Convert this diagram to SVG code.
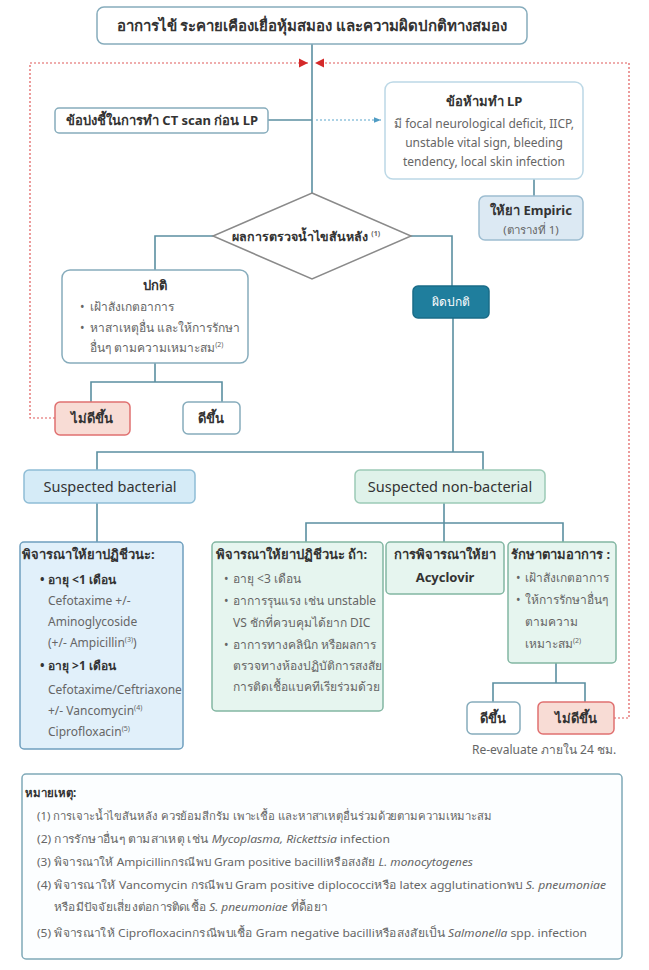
<svg xmlns="http://www.w3.org/2000/svg" width="649" height="970" viewBox="0 0 649 970">
<defs>
<style>
text{font-family:"Noto Sans","DejaVu Sans",sans-serif;fill:#333;}
.b{font-weight:bold;}
.g{fill:#666;}
.w{fill:#fff;}
.c{text-anchor:middle;}
.i{font-style:italic;}
.ln{fill:none;stroke:#5b8fa1;stroke-width:1.6;}
.red{fill:none;stroke:#e05a5a;stroke-width:1.2;stroke-dasharray:2 2;}
.blu{fill:none;stroke:#5aa6cc;stroke-width:1.2;stroke-dasharray:2 2;}
.box{fill:#fff;stroke:#86acbc;stroke-width:1.5;}
.lb{fill:#fff;stroke:#bcd8e6;stroke-width:1.5;}
.emp{fill:#dce9f3;stroke:#9dbdd1;stroke-width:1.5;}
.bad{fill:#f8dcd5;stroke:#e07070;stroke-width:1.5;}
.dark{fill:#1f7e9d;stroke:#1a6c88;stroke-width:1.5;}
.sb{fill:#d5ebf7;stroke:#8fbdd6;stroke-width:1.5;}
.sn{fill:#dff2ea;stroke:#9ccab6;stroke-width:1.5;}
.bb{fill:#e1f0fa;stroke:#6f9fbe;stroke-width:1.5;}
.gb{fill:#e6f5ef;stroke:#82b6a2;stroke-width:1.5;}
.note{fill:#fcfeff;stroke:#7fa9b8;stroke-width:1.5;}
.t15{font-size:15px;}
.t14{font-size:14.5px;}
.t13{font-size:13px;}
.t12{font-size:12px;}
.t11{font-size:11.5px;}
.sup{font-size:7px;}
</style>
<marker id="ar" viewBox="0 0 10 10" refX="10" refY="5" markerWidth="9" markerHeight="10" markerUnits="userSpaceOnUse" orient="auto">
<path d="M0 0L10 5L0 10z" fill="#d42a2a"/>
</marker>
<marker id="ab" viewBox="0 0 10 10" refX="10" refY="5" markerWidth="7" markerHeight="7" markerUnits="userSpaceOnUse" orient="auto">
<path d="M0 1L10 5L0 9z" fill="#4f9cc4"/>
</marker>
</defs>
<rect width="649" height="970" fill="#fff"/>

<g id="connectors">
<path class="red" d="M55 418H30V63H308" marker-end="url(#ar)"/>
<path class="red" d="M614 718H629V63H315" marker-end="url(#ar)"/>
<path class="ln" d="M312 44V193"/>
<path class="ln" d="M268 120H312"/>
<path class="blu" d="M316 120H381" marker-end="url(#ab)"/>
<path class="ln" d="M534 179V196"/>
<path class="ln" d="M213 236H155V270"/>
<path class="ln" d="M411 236H452V286"/>
<path class="ln" d="M155 363V382M91 402V382H222V402"/>
<path class="ln" d="M453 318V452M97 470V452H483V470"/>
<path class="ln" d="M97 503V542"/>
<path class="ln" d="M444 503V523M306 542V523H563V542M444 523V542"/>
<path class="ln" d="M556 663V683M493 702V683H585V702"/>
</g>

<g id="title">
<rect class="box" x="97" y="7" width="430" height="37" rx="7"/>
<text class="b t15 c" x="312" y="31">อาการไข้ ระคายเคืองเยื่อหุ้มสมอง และความผิดปกติทางสมอง</text>
</g>

<g id="ct">
<rect class="box" x="55" y="108" width="213" height="25" rx="4"/>
<text class="b t13 c" x="162" y="125">ข้อบ่งชี้ในการทำ CT scan ก่อน LP</text>
</g>

<g id="contra">
<rect class="lb" x="385" y="82" width="198" height="97" rx="8"/>
<text class="b t13 c" x="484" y="106">ข้อห้ามทำ LP</text>
<text class="g t12 c" x="484" y="128">มี focal neurological deficit, IICP,</text>
<text class="g t12 c" x="484" y="147">unstable vital sign, bleeding</text>
<text class="g t12 c" x="484" y="166">tendency, local skin infection</text>
</g>

<g id="empiric">
<rect class="emp" x="479" y="196" width="104" height="44" rx="6"/>
<text class="b t13 c" x="531" y="215">ให้ยา Empiric</text>
<text class="g t11 c" x="531" y="234">(ตารางที่ 1)</text>
</g>

<g id="diamond">
<path d="M312 193L411 236L312 279L213 236Z" fill="#fff" stroke="#8a8a8a" stroke-width="1.5"/>
<text class="b" font-size="12.5" x="232" y="241">ผลการตรวจน้ำไขสันหลัง <tspan class="sup g" dy="-5">(1)</tspan></text>
</g>

<g id="normal">
<rect class="box" x="62" y="270" width="186" height="93" rx="8"/>
<text class="b t13 c" x="155" y="290">ปกติ</text>
<text class="g t12" x="80" y="311">•</text>
<text class="g t12" x="90" y="311">เฝ้าสังเกตอาการ</text>
<text class="g t12" x="80" y="332">•</text>
<text class="g t12" x="90" y="332">หาสาเหตุอื่น และให้การรักษา</text>
<text class="g t12" x="90" y="352">อื่นๆ ตามความเหมาะสม<tspan class="sup" dy="-5">(2)</tspan></text>
</g>

<g id="abnormal">
<rect class="dark" x="413" y="286" width="76" height="32" rx="5"/>
<text class="w t12 c" x="451" y="306">ผิดปกติ</text>
</g>

<g id="notbetter1">
<rect class="bad" x="55" y="402" width="75" height="33" rx="5"/>
<text class="b t13 c" x="92" y="423">ไม่ดีขึ้น</text>
</g>

<g id="better1">
<rect class="box" x="183" y="402" width="57" height="32" rx="5"/>
<text class="b t13 c" x="211" y="423">ดีขึ้น</text>
</g>

<g id="susp-bact">
<rect class="sb" x="24" y="470" width="171" height="33" rx="5"/>
<text class="t14 c" x="110" y="492">Suspected bacterial</text>
</g>

<g id="susp-nonbact">
<rect class="sn" x="355" y="470" width="190" height="33" rx="5"/>
<text class="t14 c" x="450" y="492">Suspected non-bacterial</text>
</g>

<g id="bact-abx">
<rect class="bb" x="20" y="542" width="163" height="207" rx="4"/>
<text class="b t13" x="22" y="559">พิจารณาให้ยาปฏิชีวนะ:</text>
<text class="b t12" x="40" y="584">•</text>
<text class="b t12" x="48" y="584">อายุ &lt;1 เดือน</text>
<text class="g t12" x="48" y="605">Cefotaxime +/-</text>
<text class="g t12" x="48" y="626">Aminoglycoside</text>
<text class="g t12" x="48" y="647">(+/- Ampicillin<tspan class="sup" dy="-5">(3)</tspan><tspan dy="5">)</tspan></text>
<text class="b t12" x="40" y="670">•</text>
<text class="b t12" x="48" y="670">อายุ &gt;1 เดือน</text>
<text class="g t12" x="48" y="694">Cefotaxime/Ceftriaxone</text>
<text class="g t12" x="48" y="715">+/- Vancomycin<tspan class="sup" dy="-5">(4)</tspan></text>
<text class="g t12" x="48" y="736">Ciprofloxacin<tspan class="sup" dy="-5">(5)</tspan></text>
</g>

<g id="nonbact-abx">
<rect class="gb" x="212" y="542" width="171" height="169" rx="4"/>
<text class="b t13" x="216" y="559">พิจารณาให้ยาปฏิชีวนะ ถ้า:</text>
<text class="g t12" x="224" y="583">•</text>
<text class="g t12" x="233" y="583">อายุ &lt;3 เดือน</text>
<text class="g t12" x="224" y="605">•</text>
<text class="g t12" x="233" y="605">อาการรุนแรง เช่น unstable</text>
<text class="g t12" x="233" y="627">VS ชักที่ควบคุมได้ยาก DIC</text>
<text class="g t12" x="224" y="649">•</text>
<text class="g t12" x="233" y="649">อาการทางคลินิก หรือผลการ</text>
<text class="g t12" x="233" y="670">ตรวจทางห้องปฏิบัติการสงสัย</text>
<text class="g t12" x="233" y="691">การติดเชื้อแบคทีเรียร่วมด้วย</text>
</g>

<g id="acyclovir">
<rect class="gb" x="386" y="542" width="118" height="52" rx="4"/>
<text class="b t13 c" x="445" y="559">การพิจารณาให้ยา</text>
<text class="b t13 c" x="445" y="582">Acyclovir</text>
</g>

<g id="symptomatic">
<rect class="gb" x="508" y="542" width="108" height="121" rx="4"/>
<text class="b t13" x="511" y="559">รักษาตามอาการ :</text>
<text class="g t12" x="516" y="582">•</text>
<text class="g t12" x="525" y="582">เฝ้าสังเกตอาการ</text>
<text class="g t12" x="516" y="604">•</text>
<text class="g t12" x="525" y="604">ให้การรักษาอื่นๆ</text>
<text class="g t12" x="525" y="626">ตามความ</text>
<text class="g t12" x="525" y="648">เหมาะสม<tspan class="sup" dy="-5">(2)</tspan></text>
</g>

<g id="better2">
<rect class="box" x="467" y="702" width="53" height="32" rx="5"/>
<text class="b t13 c" x="493" y="723">ดีขึ้น</text>
</g>

<g id="notbetter2">
<rect class="bad" x="538" y="702" width="76" height="32" rx="5"/>
<text class="b t13 c" x="576" y="723">ไม่ดีขึ้น</text>
</g>

<text class="g t12" x="472" y="754">Re-evaluate ภายใน 24 ชม.</text>

<g id="notes">
<rect class="note" x="22" y="774" width="600" height="185" rx="4"/>
<text class="b t11" x="25" y="797">หมายเหตุ:</text>
<text class="g t11" x="37" y="820" textLength="455" lengthAdjust="spacingAndGlyphs">(1) การเจาะน้ำไขสันหลัง ควรย้อมสีกรัม เพาะเชื้อ และหาสาเหตุอื่นร่วมด้วยตามความเหมาะสม</text>
<text class="g t11" x="37" y="843" textLength="353" lengthAdjust="spacingAndGlyphs">(2) การรักษาอื่นๆ ตามสาเหตุ เช่น <tspan class="i">Mycoplasma, Rickettsia</tspan> infection</text>
<text class="g t11" x="37" y="866" textLength="436" lengthAdjust="spacingAndGlyphs">(3) พิจารณาให้ Ampicillinกรณีพบ Gram positive bacilliหรือสงสัย <tspan class="i">L. monocytogenes</tspan></text>
<text class="g t11" x="37" y="889" textLength="569" lengthAdjust="spacingAndGlyphs">(4) พิจารณาให้ Vancomycin กรณีพบ Gram positive diplococciหรือ latex agglutinationพบ <tspan class="i">S. pneumoniae</tspan></text>
<text class="g t11" x="54" y="911" textLength="273" lengthAdjust="spacingAndGlyphs">หรือมีปัจจัยเสี่ยงต่อการติดเชื้อ <tspan class="i">S. pneumoniae</tspan> ที่ดื้อยา</text>
<text class="g t11" x="37" y="937" textLength="550" lengthAdjust="spacingAndGlyphs">(5) พิจารณาให้ Ciprofloxacinกรณีพบเชื้อ Gram negative bacilliหรือสงสัยเป็น <tspan class="i">Salmonella</tspan> spp. infection</text>
</g>
</svg>
